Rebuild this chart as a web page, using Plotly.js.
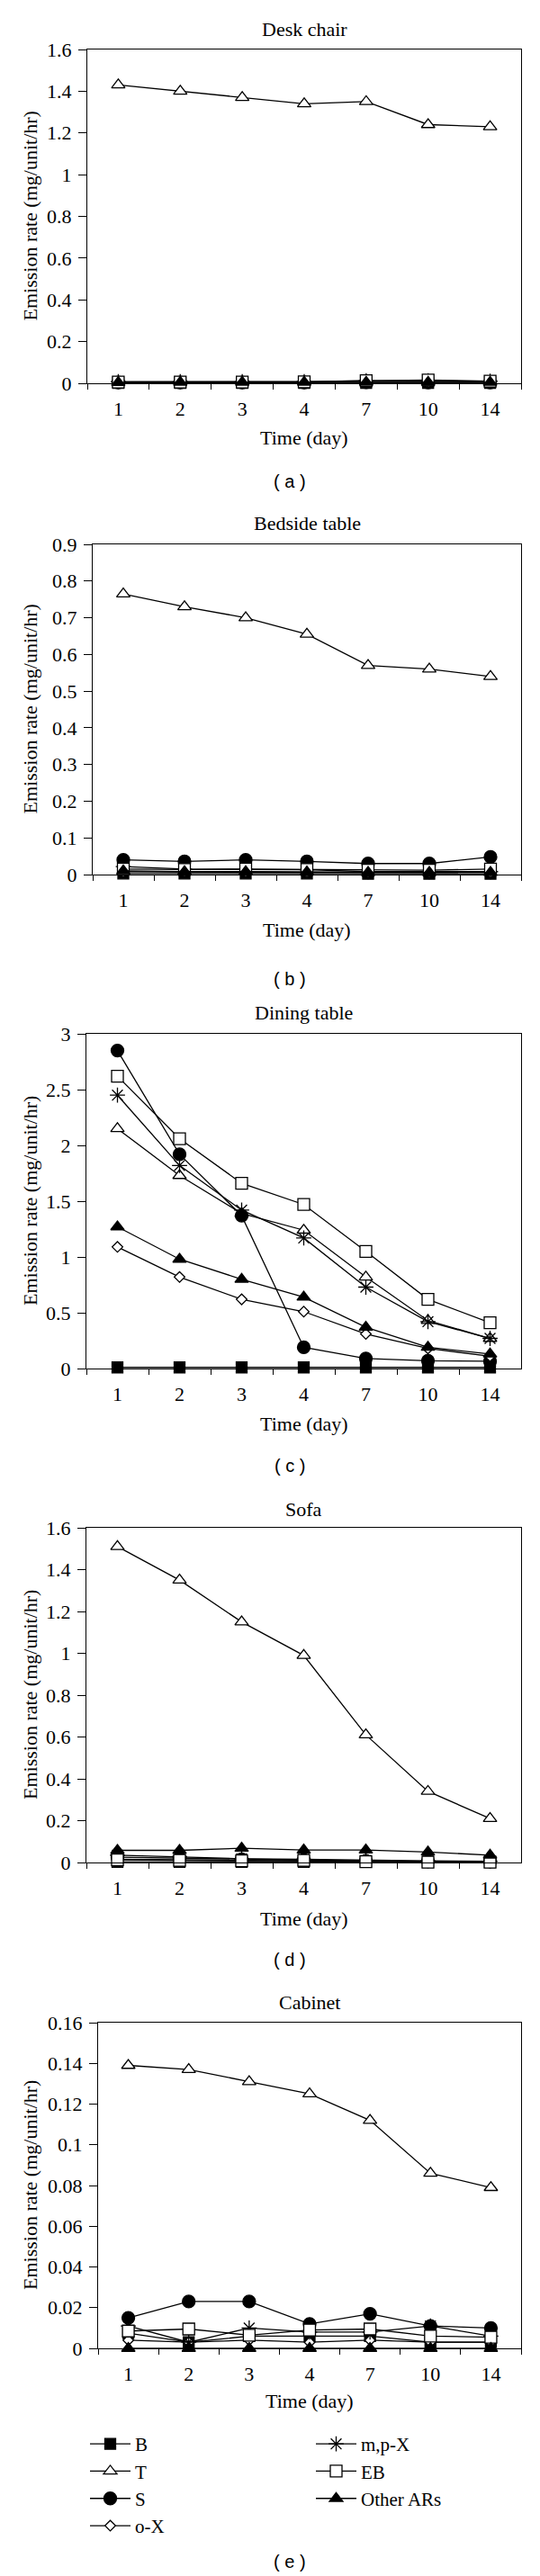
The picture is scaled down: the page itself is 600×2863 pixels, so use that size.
<!DOCTYPE html>
<html>
<head>
<meta charset="utf-8">
<script src="https://cdn.plot.ly/plotly-3.0.1.min.js"></script>
<style>
  body { margin: 0; background: #fff; }
  #chart { width: 600px; height: 2863px; }
</style>
</head>
<body>
<div id="chart"></div>
<script>
// x categories (days)
const days = ['1', '2', '3', '4', '7', '10', '14'];
const seriesNames = ['B', 'T', 'S', 'o-X', 'm,p-X', 'EB', 'Other ARs'];
const panelTitles = ['Desk chair', 'Bedside table', 'Dining table', 'Sofa', 'Cabinet'];
const panelLabels = ['( a )', '( b )', '( c )', '( d )', '( e )'];
const yMax = [1.6, 0.9, 3, 1.6, 0.16];
const yStep = [0.2, 0.1, 0.5, 0.2, 0.02];

// (a) desk chair
const deskB = [0.002, 0.002, 0.002, 0.002, 0.002, 0.002, 0.002];
const deskT = [1.43, 1.40, 1.37, 1.34, 1.35, 1.24, 1.23];
const deskS = [0.004, 0.004, 0.004, 0.004, 0.005, 0.004, 0.004];
const deskOX = [0.003, 0.003, 0.003, 0.003, 0.004, 0.003, 0.003];
const deskMPX = [0.008, 0.008, 0.008, 0.008, 0.012, 0.012, 0.01];
const deskEB = [0.006, 0.006, 0.006, 0.007, 0.012, 0.016, 0.01];
const deskOther = [0.004, 0.005, 0.005, 0.005, 0.005, 0.005, 0.005];

// (b) bedside table
const bedB = [0.003, 0.003, 0.003, 0.003, 0.002, 0.002, 0.002];
const bedT = [0.765, 0.73, 0.70, 0.655, 0.57, 0.56, 0.54];
const bedS = [0.04, 0.036, 0.04, 0.036, 0.03, 0.03, 0.048];
const bedOX = [0.008, 0.007, 0.007, 0.006, 0.005, 0.005, 0.005];
const bedMPX = [0.022, 0.015, 0.014, 0.013, 0.008, 0.008, 0.008];
const bedEB = [0.015, 0.014, 0.015, 0.014, 0.012, 0.012, 0.015];
const bedOther = [0.01, 0.008, 0.008, 0.007, 0.006, 0.006, 0.006];

// (c) dining table
const dinB = [0.01, 0.01, 0.01, 0.01, 0.01, 0.01, 0.01];
const dinT = [2.15, 1.73, 1.39, 1.24, 0.82, 0.43, 0.27];
const dinS = [2.85, 1.92, 1.37, 0.19, 0.09, 0.07, 0.065];
const dinOX = [1.09, 0.82, 0.62, 0.51, 0.31, 0.18, 0.11];
const dinMPX = [2.45, 1.82, 1.42, 1.17, 0.73, 0.42, 0.27];
const dinEB = [2.62, 2.06, 1.66, 1.47, 1.05, 0.62, 0.41];
const dinOther = [1.27, 0.98, 0.80, 0.64, 0.37, 0.19, 0.13];

// (d) sofa
const sofaB = [0.003, 0.003, 0.003, 0.003, 0.003, 0.002, 0.002];
const sofaT = [1.51, 1.35, 1.15, 0.99, 0.61, 0.34, 0.21];
const sofaS = [0.025, 0.02, 0.015, 0.012, 0.008, 0.006, 0.005];
const sofaOX = [0.015, 0.012, 0.01, 0.006, 0.004, 0.003, 0.003];
const sofaMPX = [0.035, 0.028, 0.018, 0.015, 0.01, 0.008, 0.006];
const sofaEB = [0.012, 0.01, 0.008, 0.01, 0.004, 0.002, 0.002];
const sofaOther = [0.058, 0.058, 0.068, 0.06, 0.06, 0.05, 0.035];

// (e) cabinet
const cabB = [0.0075, 0.003, 0.006, 0.006, 0.006, 0.003, 0.003];
const cabT = [0.139, 0.137, 0.131, 0.125, 0.112, 0.086, 0.079];
const cabS = [0.015, 0.023, 0.023, 0.012, 0.017, 0.011, 0.010];
const cabOX = [0.004, 0.003, 0.004, 0.003, 0.004, 0.003, 0.003];
const cabMPX = [0.011, 0.003, 0.010, 0.008, 0.008, 0.011, 0.006];
const cabEB = [0.0085, 0.0095, 0.0065, 0.009, 0.0095, 0.006, 0.0055];
const cabOther = [0, 0, 0, 0, 0, 0, 0];

const panelData = [
    [deskB, deskT, deskS, deskOX, deskMPX, deskEB, deskOther],
    [bedB, bedT, bedS, bedOX, bedMPX, bedEB, bedOther],
    [dinB, dinT, dinS, dinOX, dinMPX, dinEB, dinOther],
    [sofaB, sofaT, sofaS, sofaOX, sofaMPX, sofaEB, sofaOther],
    [cabB, cabT, cabS, cabOX, cabMPX, cabEB, cabOther],
];

// marker look for each series, and which legend column it goes in
const markerStyle = [
    { symbol: 'square', size: 12, color: 'black' },
    { symbol: 'triangle-up', size: 13, color: 'white' },
    { symbol: 'circle', size: 14, color: 'black' },
    { symbol: 'diamond', size: 9, color: 'white' },
    { symbol: 'asterisk-open', size: 14, color: 'black' },
    { symbol: 'square', size: 13, color: 'white' },
    { symbol: 'triangle-up', size: 13, color: 'black' },
];
const legendColumn = ['legend', 'legend', 'legend', 'legend', 'legend2', 'legend2', 'legend2'];

// panel geometry in page pixels
const W = 600, H = 2863;
const plotLeft = [97, 103, 96, 96, 109];
const plotRight = 579;
const plotTop = [55, 605, 1149, 1698, 2248];
const plotBottom = [426, 972, 1521, 2070, 2610];
const titleY = [32, 582, 1125, 1677, 2225];
const xTitleY = [487, 1033, 1582, 2132, 2668];
const labelY = [535, 1088, 1629, 2178, 2847];

const serif = 'Liberation Serif, Times New Roman, serif';
const px = (p) => p / W;
const py = (p) => 1 - p / H;

const legendBase = {
    orientation: 'v',
    xanchor: 'left',
    y: py(2696),
    yanchor: 'top',
    itemwidth: 45,
    font: { family: serif, size: 21, color: 'black' },
    bgcolor: 'rgba(0,0,0,0)',
    borderwidth: 0,
};

let data = [];
let layout = {
    width: W,
    height: H,
    margin: { l: 0, r: 0, t: 0, b: 0, pad: 0, autoexpand: false },
    paper_bgcolor: 'white',
    plot_bgcolor: 'white',
    font: { family: serif, size: 22, color: 'black' },
    showlegend: true,
    legend: Object.assign({}, legendBase, { x: px(95) }),
    legend2: Object.assign({}, legendBase, { x: px(346) }),
    annotations: [],
};

for (let p = 0; p < 5; ++p) {
    const sfx = p === 0 ? '' : String(p + 1);
    for (let s = 0; s < seriesNames.length; ++s) {
        const m = markerStyle[s];
        data.push({
            x: days,
            y: panelData[p][s],
            xaxis: 'x' + sfx,
            yaxis: 'y' + sfx,
            name: seriesNames[s],
            type: 'scatter',
            mode: 'lines+markers',
            cliponaxis: false,
            showlegend: p === 4,
            legend: legendColumn[s],
            line: { color: 'black', width: 1.3 },
            marker: {
                symbol: m.symbol,
                size: m.size,
                color: m.color,
                line: { color: 'black', width: 1.3 },
            },
        });
    }
    layout['xaxis' + sfx] = {
        type: 'category',
        categoryorder: 'array',
        categoryarray: days,
        range: [-0.5, 6.5],
        domain: [px(plotLeft[p]), px(plotRight)],
        anchor: 'y' + sfx,
        showline: true,
        linecolor: 'black',
        linewidth: 1.2,
        mirror: true,
        ticks: 'outside',
        tickson: 'boundaries',
        ticklen: 6,
        tickwidth: 1,
        tickcolor: 'black',
        ticklabelstandoff: 8,
        showgrid: false,
        zeroline: false,
        tickfont: { family: serif, size: 22, color: 'black' },
    };
    layout['yaxis' + sfx] = {
        range: [0, yMax[p]],
        tick0: 0,
        dtick: yStep[p],
        domain: [py(plotBottom[p]), py(plotTop[p])],
        anchor: 'x' + sfx,
        showline: true,
        linecolor: 'black',
        linewidth: 1.2,
        mirror: true,
        ticks: 'outside',
        ticklen: 9,
        tickwidth: 1,
        tickcolor: 'black',
        ticklabelstandoff: 3,
        showgrid: false,
        zeroline: false,
        tickfont: { family: serif, size: 22, color: 'black' },
    };

    const cx = (plotLeft[p] + plotRight) / 2;
    layout.annotations.push({
        text: panelTitles[p], xref: 'paper', yref: 'paper',
        x: px(cx), y: py(titleY[p]), xanchor: 'center', yanchor: 'middle',
        showarrow: false, font: { family: serif, size: 22, color: 'black' },
    });
    layout.annotations.push({
        text: 'Time (day)', xref: 'paper', yref: 'paper',
        x: px(cx), y: py(xTitleY[p]), xanchor: 'center', yanchor: 'middle',
        showarrow: false, font: { family: serif, size: 22, color: 'black' },
    });
    layout.annotations.push({
        text: 'Emission rate (mg/unit/hr)', xref: 'paper', yref: 'paper',
        x: px(33), y: py((plotTop[p] + plotBottom[p]) / 2), xanchor: 'center', yanchor: 'middle',
        textangle: -90,
        showarrow: false, font: { family: serif, size: 22, color: 'black' },
    });
    layout.annotations.push({
        text: panelLabels[p], xref: 'paper', yref: 'paper',
        x: px(322), y: py(labelY[p]), xanchor: 'center', yanchor: 'middle',
        showarrow: false, font: { family: 'Liberation Sans, Arial, sans-serif', size: 20, color: 'black' },
    });
}

Plotly.newPlot('chart', data, layout, { staticPlot: true, displayModeBar: false });
</script>
</body>
</html>
